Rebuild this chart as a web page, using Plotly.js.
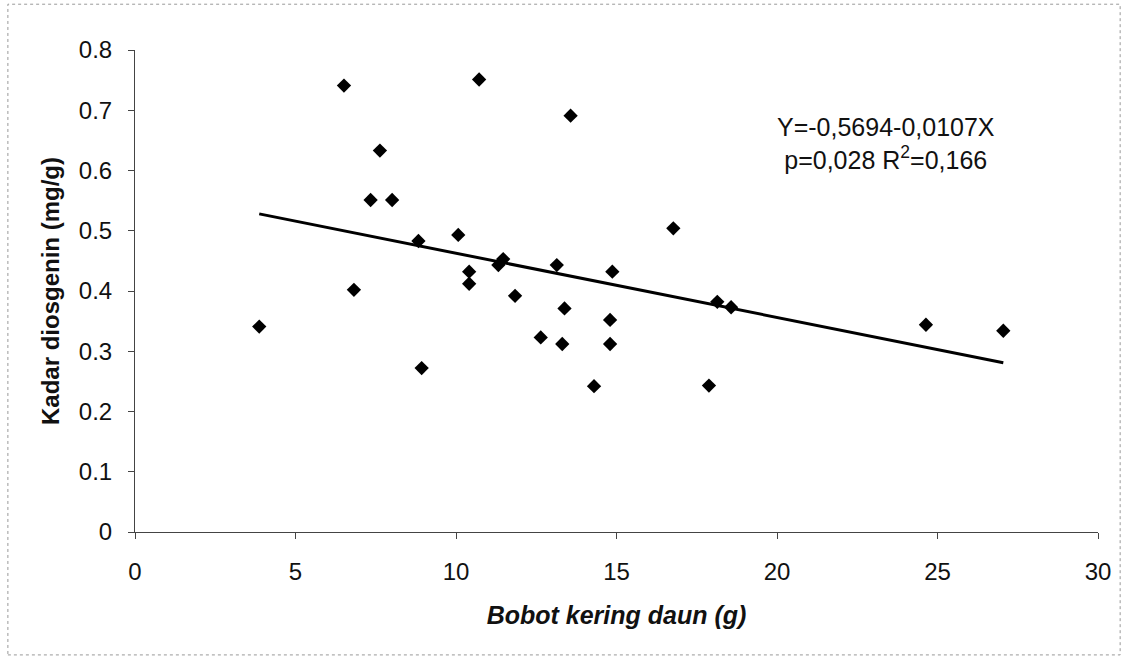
<!DOCTYPE html>
<html>
<head>
<meta charset="utf-8">
<script src="https://cdn.plot.ly/plotly-3.0.1.min.js"></script>
<style>html,body{margin:0;padding:0;background:#fff;}#chart{width:1134px;height:665px;}</style>
</head>
<body>
<div id="chart"></div>
<script>
// Data
var bobotKering = [3.87, 6.51, 6.82, 7.34, 7.63, 8.01, 8.83, 8.93, 10.07, 10.41, 10.41, 10.72, 11.32, 11.47, 11.84, 12.64, 13.14, 13.31, 13.38, 13.57, 14.3, 14.8, 14.8, 14.87, 16.77, 17.88, 18.14, 18.57, 24.64, 27.05];
var kadarDiosgenin = [0.341, 0.741, 0.402, 0.551, 0.633, 0.551, 0.483, 0.272, 0.493, 0.432, 0.412, 0.751, 0.443, 0.453, 0.392, 0.323, 0.443, 0.312, 0.371, 0.691, 0.242, 0.352, 0.312, 0.432, 0.504, 0.243, 0.382, 0.373, 0.344, 0.334];
var trendX = [3.87, 27.05];
var trendY = [0.528, 0.281];
var xTicks = [0, 5, 10, 15, 20, 25, 30];
var yTicks = [0, 0.1, 0.2, 0.3, 0.4, 0.5, 0.6, 0.7, 0.8];
var yTickText = ["0", "0.1", "0.2", "0.3", "0.4", "0.5", "0.6", "0.7", "0.8"];
var equationText = "Y=-0,5694-0,0107X";
var statsText = "p=0,028 R<sup>2</sup>=0,166";

var font = "Arial, 'Liberation Sans', sans-serif";

var traces = [
  {
    x: bobotKering, y: kadarDiosgenin, type: "scatter", mode: "markers",
    marker: {symbol: "diamond", size: 11, color: "#000"},
    hoverinfo: "x+y", showlegend: false
  },
  {
    x: trendX, y: trendY, type: "scatter", mode: "lines",
    line: {color: "#000", width: 3}, showlegend: false, hoverinfo: "skip"
  }
];

var layout = {
  width: 1134, height: 665,
  margin: {l: 135, r: 36, t: 50, b: 133},
  paper_bgcolor: "#fff", plot_bgcolor: "#fff",
  font: {family: font, color: "#111", size: 24},
  xaxis: {
    range: [0, 30], tickvals: xTicks, ticktext: xTicks.map(String),
    showgrid: false, zeroline: false, showline: true, linecolor: "#444", linewidth: 1,
    ticks: "outside", ticklen: 6, tickcolor: "#444", ticklabelstandoff: 12,
    tickfont: {size: 24, family: font, color: "#111"},
    title: {text: "<b><i>Bobot kering daun (g)</i></b>", font: {size: 25, family: font, color: "#111"}, standoff: 22},
    automargin: false
  },
  yaxis: {
    range: [0, 0.8], tickvals: yTicks, ticktext: yTickText,
    showgrid: false, zeroline: false, showline: true, linecolor: "#444", linewidth: 1,
    ticks: "outside", ticklen: 6, tickcolor: "#444", ticklabelstandoff: 11,
    tickfont: {size: 24, family: font, color: "#111"},
    title: {text: "<b>Kadar diosgenin (mg/g)</b>", font: {size: 24, family: font, color: "#111"}, standoff: 12},
    automargin: false
  },
  annotations: [
    {x: 0.78, y: 0.805, xref: "paper", yref: "paper", text: equationText + "<br>" + statsText, showarrow: false,
     align: "center", font: {size: 25, family: font, color: "#111"}, xanchor: "center", yanchor: "middle"}
  ],
  shapes: [
    {type: "rect", xref: "paper", yref: "paper", x0: -0.132, x1: 1.023, y0: -0.255, y1: 1.095,
     line: {color: "#999", width: 1, dash: "dot"}, fillcolor: "rgba(0,0,0,0)"}
  ]
};

Plotly.newPlot("chart", traces, layout, {displayModeBar: false, staticPlot: true});
</script>
</body>
</html>
